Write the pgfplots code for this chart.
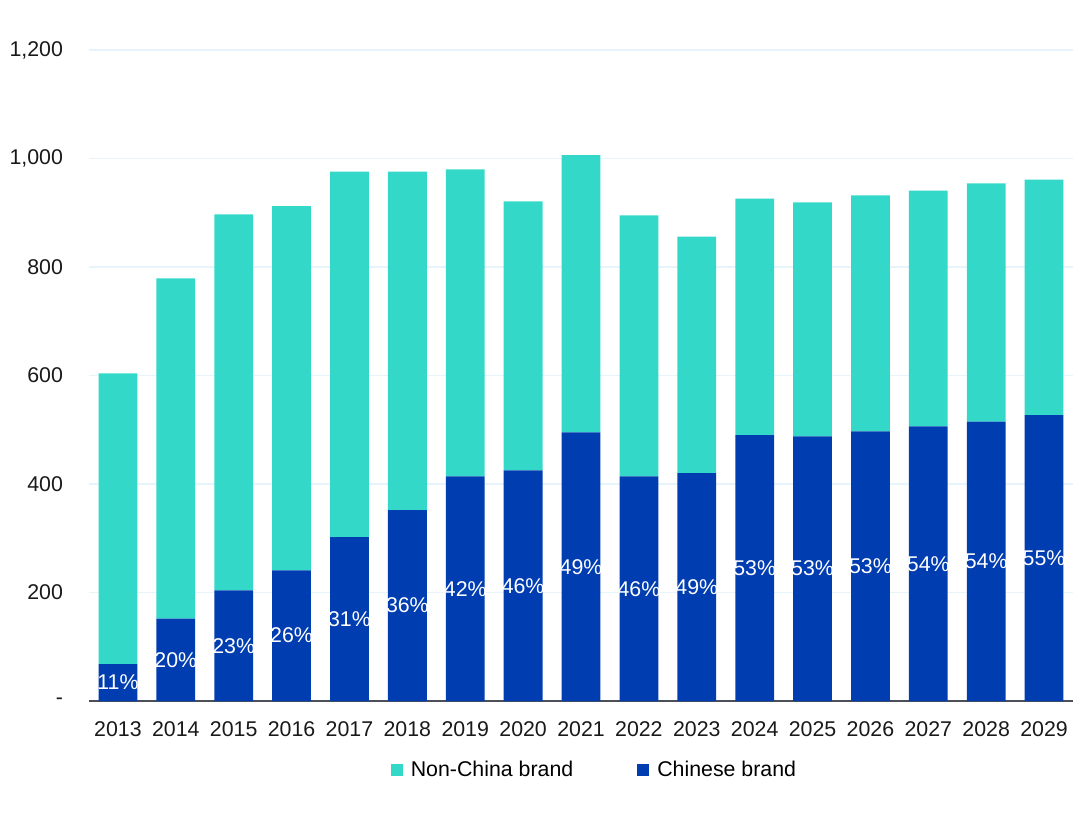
\documentclass[border=0pt]{standalone}
\usepackage{pgfplots}
\pgfplotsset{compat=1.18}
\usepackage{pgfplotstable}
\usepackage{fontspec}
\setmainfont{Liberation Sans}
\definecolor{teal}{HTML}{34D8C8}
\definecolor{cblue}{HTML}{003DB0}
\definecolor{gridc}{HTML}{E8F4FC}
\definecolor{axc}{HTML}{4A4F5A}
\pgfplotstableread{
x china non pct
0 68 536 11
1 152 627 20
2 204 693 23
3 241 671 26
4 302 674 31
5 352 624 36
6 414 566 42
7 425 496 46
8 495 511 49
9 414 481 46
10 420 436 49
11 490 436 53
12 488 431 53
13 497 435 53
14 506 435 54
15 515 439 54
16 527 434 55
}\data
\pgfplotsset{common/.style={
  at={(66.75pt,85.5pt)}, anchor=south west,
  width=738pt, height=488.25pt, scale only axis,
  xmin=-0.5, xmax=16.5, ymin=0, ymax=1200}}
\begin{document}
\begin{tikzpicture}
\path[use as bounding box] (0,0) rectangle (810pt,611.25pt);
\begin{axis}[common,
  ybar stacked, bar width=0.67,
  xtick={0,...,16},
  xticklabels={2013,2014,2015,2016,2017,2018,2019,2020,2021,2022,2023,2024,2025,2026,2027,2028,2029},
  ytick={0,200,400,600,800,1000,1200},
  yticklabels={{-\hspace{13pt}},200,400,600,800,{1,000},{1,200}},
  axis x line*=bottom, axis y line*=left,
  x axis line style={draw=axc, line width=0.9pt},
  y axis line style={draw=none},
  major tick length=0pt,
  ymajorgrids, grid style={draw=gridc, line width=0.8pt},
  tick label style={font=\fontsize{16}{19}\selectfont, text=black!90},
  xticklabel style={yshift=-12pt},
  yticklabel style={xshift=-16pt},
  legend style={at={(0.514,-0.106)}, anchor=center, draw=none, fill=none,
    legend columns=2, font=\fontsize{16}{19}\selectfont,
    /tikz/every odd column/.append style={column sep=4pt},
    /tikz/every even column/.append style={column sep=46pt}},
  legend image code/.code={\fill[#1, draw=none] (0pt,-4.5pt) rectangle (9pt,4.5pt);},
  legend cell align=left,
]
\addlegendimage{fill=teal, draw=none}
\addlegendentry{Non-China brand}
\addlegendimage{fill=cblue, draw=none}
\addlegendentry{Chinese brand}
\addplot[fill=cblue, draw=none, forget plot] table[x=x, y=china] {\data};
\addplot[fill=teal, draw=none, forget plot] table[x=x, y=non] {\data};
\end{axis}
\begin{axis}[common, hide axis,
  point meta=explicit symbolic]
\addplot[only marks, mark=none,
  nodes near coords={\pgfplotspointmeta\%},
  every node near coord/.append style={anchor=center, text=white,
    font=\fontsize{16}{19}\selectfont},
] table[x=x, y expr=\thisrow{china}/2, meta=pct] {\data};
\end{axis}
\end{tikzpicture}
\end{document}
